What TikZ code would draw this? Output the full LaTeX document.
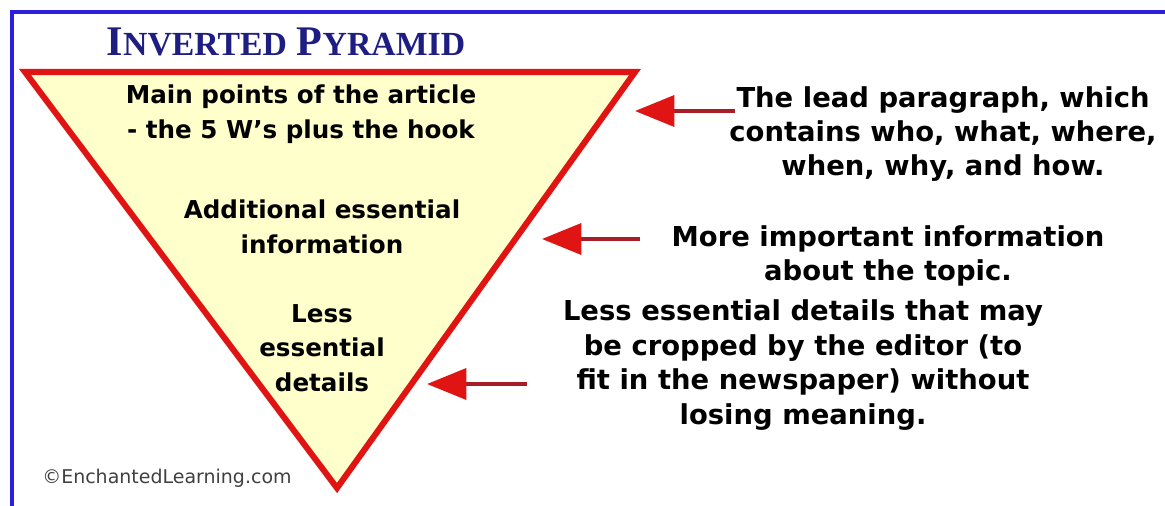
\documentclass[tikz,border=0pt]{standalone}
\usepackage{fontspec}
\setmainfont{DejaVu Sans}
\newfontfamily\titlefont{Liberation Serif}
\usetikzlibrary{arrows.meta}
\definecolor{PyrRed}{RGB}{225,20,20}
\definecolor{PyrFill}{RGB}{255,255,204}
\definecolor{ArrowLine}{RGB}{165,30,40}
\definecolor{Navy}{RGB}{30,30,130}
\definecolor{Frame}{RGB}{45,30,220}

\begin{document}
\begin{tikzpicture}[
    x=0.025cm, y=-0.025cm,
    txt/.style={
        align=center, inner sep=0pt,
        font=\fontsize{17.5}{24.5}\selectfont\bfseries
    },
    note/.style={
        align=center, inner sep=0pt,
        font=\fontsize{19.5}{24.5}\selectfont\bfseries
    },
    pointer/.style={
        -{Triangle[length=28pt, width=22pt, color=PyrRed, fill=PyrRed]},
        line width=2.8pt, ArrowLine
    },
]
\useasboundingbox (0,0) rectangle (1165,506);
\fill[white] (0,0) rectangle (1165,506);

%% frame
\draw[Frame, line width=2.2pt] (1165,12) -- (12,12) -- (12,506);

%% title
\node[font=\titlefont\bfseries, text=Navy, inner sep=0pt] (title) at (286,42)
    {{\fontsize{30}{30}\selectfont I}{\fontsize{24}{24}\selectfont NVERTED}\hspace{7pt}{\fontsize{30}{30}\selectfont P}{\fontsize{24}{24}\selectfont YRAMID}};

%% pyramid
\coordinate (pa) at (25,72);
\coordinate (pb) at (635,72);
\coordinate (pc) at (337,488);
\draw[PyrRed, line width=4.3pt, fill=PyrFill] (pa) -- (pb) -- (pc) -- cycle;

%% layers inside the pyramid
\node[txt] (main) at (301,114)
    {Main points of the article\\- the 5 W's plus the hook};
\node[txt] (addl) at (322,227)
    {Additional essential\\information};
\node[txt] (less) at (322,348)
    {Less\\essential\\details};

%% notes on the right
\node[note] (lead) at (943,134)
    {The lead paragraph, which\\contains who, what, where,\\when, why, and how.};
\node[note] (more) at (888,256)
    {More important information\\about the topic.};
\node[note] (crop) at (803,365)
    {Less essential details that may\\be cropped by the editor (to\\fit in the newspaper) without\\losing meaning.};

%% arrows
\coordinate (leadtail) at (735,111);
\coordinate (leadtip) at (635,111);
\coordinate (moretail) at (640,239);
\coordinate (moretip) at (542,239);
\coordinate (croptail) at (527,384);
\coordinate (croptip) at (427,384);
\draw[pointer] (leadtail) -- (leadtip);
\draw[pointer] (moretail) -- (moretip);
\draw[pointer] (croptail) -- (croptip);

%% credit
\node[font=\fontsize{13.5}{15}\selectfont, text=black!75, anchor=west, inner sep=0pt]
    (credit) at (42,478) {\char"00A9 EnchantedLearning.com};

\end{tikzpicture}
\end{document}
